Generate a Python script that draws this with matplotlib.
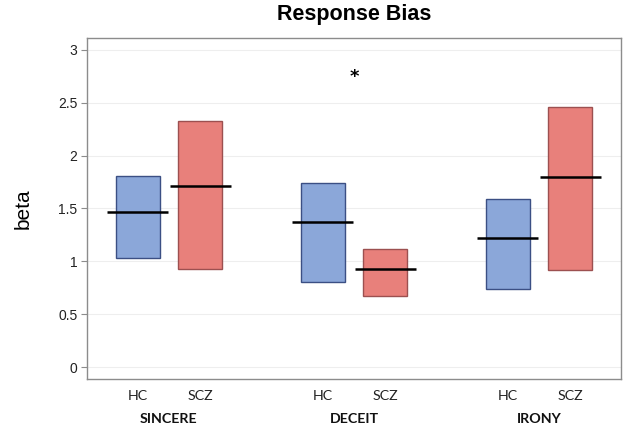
import matplotlib
matplotlib.use("Agg")
import matplotlib.pyplot as plt
import numpy as np

conditions = ["SINCERE", "DECEIT", "IRONY"]
groups = ["HC", "SCZ"]
# [HC, SCZ] per condition
upper = [[1.81, 2.33], [1.74, 1.12], [1.59, 2.46]]
lower = [[1.03, 0.93], [0.81, 0.67], [0.74, 0.92]]
means = [[1.47, 1.71], [1.37, 0.93], [1.22, 1.80]]
yticks = [0, 0.5, 1, 1.5, 2, 2.5, 3]
star_condition = "DECEIT"
star_y = 2.74

fills = ["#8BA7D9", "#E8807B"]
edges = ["#3B4F84", "#9C5050"]

fig = plt.figure(figsize=(6.25, 4.29), dpi=100)
ax = fig.add_axes([0.1392, 0.1166, 0.8544, 0.7948])

offset = 0.168
bw = 0.238
half_line = 0.165
tick_pos, tick_lab = [], []
for ci, cond in enumerate(conditions):
    for gi, g in enumerate(groups):
        x = ci + (gi - 0.5) * 2 * offset
        ax.bar(x, upper[ci][gi] - lower[ci][gi], bottom=lower[ci][gi], width=bw,
               color=fills[gi], edgecolor=edges[gi], linewidth=1.0, zorder=2)
        ax.hlines(means[ci][gi], x - half_line, x + half_line, color="black",
                  linewidth=1.8, zorder=3)
        tick_pos.append(x)
        tick_lab.append(g)
    ax.text(ci, -0.117, cond, transform=ax.get_xaxis_transform(), ha="center",
            va="center", fontsize=10.3, fontweight="bold", family="Lato", color="#111111")

ax.text(conditions.index(star_condition), star_y, "*", ha="center", va="center",
        fontsize=13, fontweight="bold")

ax.set_xlim(-0.443, 2.443)
ax.set_ylim(-0.11, 3.11)
ax.set_yticks(yticks)
ax.set_yticklabels([f"{t:g}" for t in yticks], fontsize=10, family="Liberation Sans",
                   color="#222222")
ax.set_xticks(tick_pos)
ax.set_xticklabels(tick_lab, fontsize=10.3, family="Lato", color="#222222")
ax.tick_params(axis="x", length=0, pad=8)
ax.tick_params(axis="y", length=4, color="#8C8C8C", pad=3)
for sp in ax.spines.values():
    sp.set_color("#8C8C8C")
    sp.set_linewidth(1.0)
ax.grid(axis="y", color="#EEEEEE", linewidth=0.8, zorder=0)
ax.set_axisbelow(True)

ax.set_ylabel("beta", fontsize=15, family="Liberation Sans", labelpad=18)
fig.text(0.566, 0.967, "Response Bias", ha="center", va="center", fontsize=15.5,
         fontweight="bold", family="Liberation Sans")

fig.savefig("out.png", dpi=100)
